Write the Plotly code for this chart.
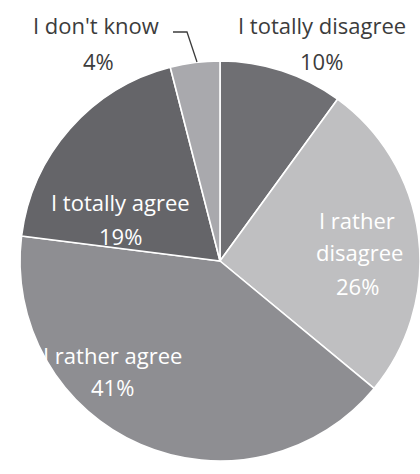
import plotly.graph_objects as go

# Survey answers, in clockwise order from 12 o'clock
answers = ["I totally disagree", "I rather disagree", "I rather agree",
           "I totally agree", "I don't know"]
shares = [10, 26, 41, 19, 4]
slice_colors = ["#6f6f73", "#bfbfc1", "#8e8e92", "#656569", "#a9a9ad"]

W, H = 420, 474


def px(x, y):
    """Pixel position -> paper coordinates."""
    return x / W, 1 - y / H


# Label placement: name line(s) centre, percent line centre, text colour
label_layout = [
    dict(name_xy=[(322, 25)], pct_xy=(321, 61), color="#3c3c3c"),
    dict(name_xy=[(357, 220), (359, 252)], pct_xy=(357, 286), color="#ffffff"),
    dict(name_xy=[(112, 355)], pct_xy=(112, 387), color="#ffffff"),
    dict(name_xy=[(120, 202)], pct_xy=(120, 236), color="#ffffff"),
    dict(name_xy=[(96, 25)], pct_xy=(98, 61), color="#3c3c3c"),
]

cx, cy, r = 221, 261, 201

fig = go.Figure(go.Pie(
    values=shares,
    labels=answers,
    sort=False,
    direction="clockwise",
    rotation=0,
    textinfo="none",
    hoverinfo="label+percent",
    marker=dict(colors=slice_colors, line=dict(color="#ffffff", width=1.6)),
    domain=dict(x=[(cx - r) / W, min(1, (cx + r) / W)],
                y=[(H - cy - r) / H, (H - cy + r) / H]),
    showlegend=False,
))

font_family = "'Open Sans', Lato, sans-serif"
font_size = 22
annotations = []
for name, share, lay in zip(answers, shares, label_layout):
    words = name.split()
    parts = [name] if len(lay["name_xy"]) == 1 else [" ".join(words[:2]), words[2]]
    for part, (x, y) in zip(parts, lay["name_xy"]):
        ax, ay = px(x, y)
        annotations.append(dict(x=ax, y=ay, xref="paper", yref="paper",
                                text=part, showarrow=False,
                                xanchor="center", yanchor="middle",
                                font=dict(family=font_family, size=font_size,
                                          color=lay["color"])))
    ax, ay = px(*lay["pct_xy"])
    annotations.append(dict(x=ax, y=ay, xref="paper", yref="paper",
                            text=f"{share}%", showarrow=False,
                            xanchor="center", yanchor="middle",
                            font=dict(family=font_family, size=font_size,
                                      color=lay["color"])))

# Leader line for the small "I don't know" slice
p0, p1, p2 = px(173, 32), px(187, 32), px(197, 62)
leader = dict(type="path", xref="paper", yref="paper",
              path=f"M {p0[0]} {p0[1]} L {p1[0]} {p1[1]} L {p2[0]} {p2[1]}",
              line=dict(color="#3c3c3c", width=1.3))

fig.update_layout(
    width=W, height=H,
    margin=dict(l=0, r=0, t=0, b=0),
    paper_bgcolor="#ffffff",
    plot_bgcolor="#ffffff",
    annotations=annotations,
    shapes=[leader],
)

fig.write_html("out.html")
